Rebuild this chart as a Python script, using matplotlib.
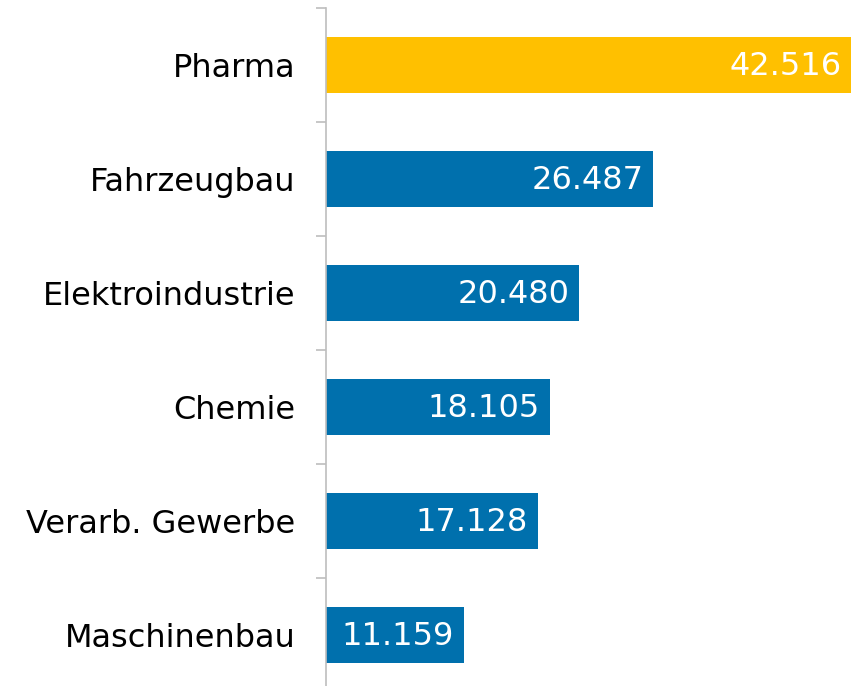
import matplotlib
matplotlib.use("Agg")
import matplotlib.pyplot as plt

# Categories top to bottom and their values
categories = ["Pharma", "Fahrzeugbau", "Elektroindustrie", "Chemie",
              "Verarb. Gewerbe", "Maschinenbau"]
values = [42.516, 26.487, 20.480, 18.105, 17.128, 11.159]
highlight = "Pharma"

BLUE = "#0070AD"
GOLD = "#FFC000"
GRID = "#BEBEBE"

fig = plt.figure(figsize=(8.51, 6.86), dpi=100)
W, H = 851, 686
ax = fig.add_axes([326 / W, -6 / H, (W - 326) / W, 684 / H])

n = len(categories)
ypos = [n - 1 - i for i in range(n)]
colors = [GOLD if c == highlight else BLUE for c in categories]
ax.barh(ypos, values, height=0.49, color=colors, left=0)

for y, v in zip(ypos, values):
    txt = f"{v:.3f}"
    ax.annotate(txt, (v, y), xytext=(-7, -1), textcoords="offset points",
                ha="right", va="center", color="white", fontsize=23)

ax.set_xlim(0, max(values))
ax.set_ylim(-0.5, n - 0.5)

# boundary ticks (marks only) and centred labels
ax.set_yticks([k + 0.5 for k in range(-1, n)])
ax.set_yticklabels([])
ax.tick_params(axis="y", which="major", length=7, width=1.2, color=GRID)
ax.set_yticks(ypos, minor=True)
ax.set_yticklabels(categories, minor=True)
ax.tick_params(axis="y", which="minor", length=0, pad=22, labelsize=23)

ax.set_xticks([])
for s in ["top", "right", "bottom"]:
    ax.spines[s].set_visible(False)
ax.spines["left"].set_color(GRID)
ax.spines["left"].set_linewidth(1.2)

fig.savefig("out.png", dpi=100)
